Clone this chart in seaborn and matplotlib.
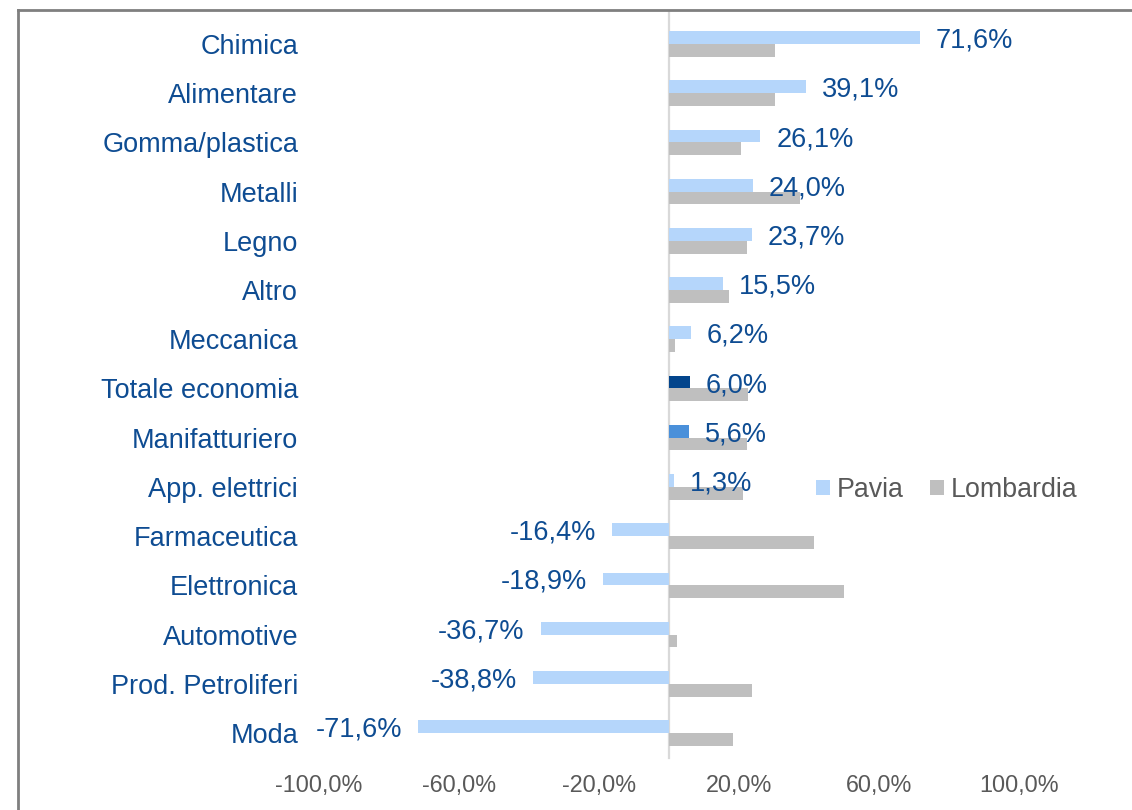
import matplotlib
matplotlib.use("Agg")
import matplotlib.pyplot as plt
from matplotlib.lines import Line2D
from matplotlib.ticker import FixedLocator, FuncFormatter
import pandas as pd
import seaborn as sns

# Variazione % per settore: Pavia vs Lombardia
settori = ["Chimica", "Alimentare", "Gomma/plastica", "Metalli", "Legno", "Altro",
           "Meccanica", "Totale economia", "Manifatturiero", "App. elettrici",
           "Farmaceutica", "Elettronica", "Automotive", "Prod. Petroliferi", "Moda"]
pavia = [71.6, 39.1, 26.1, 24.0, 23.7, 15.5, 6.2, 6.0, 5.6, 1.3,
         -16.4, -18.9, -36.7, -38.8, -71.6]
lombardia = [30.2, 30.2, 20.7, 37.4, 22.3, 17.1, 1.7, 22.6, 22.2, 21.2,
             41.4, 50.1, 2.2, 23.8, 18.2]
serie = ["Pavia", "Lombardia"]
x_ticks = [-100, -60, -20, 20, 60, 100]

df = pd.DataFrame({
    "settore": settori * 2,
    "valore": pavia + lombardia,
    "serie": [serie[0]] * len(settori) + [serie[1]] * len(settori),
})

BLUE_TXT = "#0E4C92"
GRAY_TXT = "#595959"
plt.rcParams["font.family"] = ["Liberation Sans", "DejaVu Sans"]

fig = plt.figure(figsize=(11.32, 8.10), dpi=100)
ax = fig.add_axes([0.2818, 0.0647, 0.6184, 0.9114])

sns.barplot(data=df, y="settore", x="valore", hue="serie", order=settori,
            hue_order=serie, orient="h", width=0.52, saturation=1,
            palette={"Pavia": "#B5D6FB", "Lombardia": "#BFBFBF"},
            linewidth=0, ax=ax)

# evidenzia i totali di Pavia
pav_bars = ax.containers[0]
pav_bars[settori.index("Totale economia")].set_facecolor("#03458C")
pav_bars[settori.index("Manifatturiero")].set_facecolor("#4A90DA")

labels = [f"{v:.1f}%".replace(".", ",") for v in pavia]
texts = ax.bar_label(pav_bars, labels=labels, padding=11.5, fontsize=19.5, color=BLUE_TXT)
for t in texts:
    dx, dy = t.xyann
    t.xyann = (dx, dy - 2.2)

ax.set_xlim(-100, 100)
ax.set_ylim(len(settori) - 0.5, -0.5)
ax.axvline(0, ymin=0, ymax=1.01, color="#D9D9D9", lw=1.6, clip_on=False, zorder=0)

ax.xaxis.set_major_locator(FixedLocator(x_ticks))
ax.xaxis.set_major_formatter(FuncFormatter(lambda v, p: f"{v:.1f}%".replace(".", ",")))
ax.tick_params(axis="x", length=0, pad=12, labelsize=16.8, labelcolor=GRAY_TXT)
ax.tick_params(axis="y", length=0, pad=15, labelsize=19.5, labelcolor=BLUE_TXT)
ax.set_xlabel("")
ax.set_ylabel("")
for s in ax.spines.values():
    s.set_visible(False)

handles, names = ax.get_legend_handles_labels()
ax.legend(handles, names, loc="center left",
          bbox_to_anchor=(816 / 1132, 1 - 490 / 810), bbox_transform=fig.transFigure,
          ncol=2, frameon=False, fontsize=19.3, labelcolor=GRAY_TXT,
          handlelength=0.52, handleheight=0.52, handletextpad=0.25,
          columnspacing=1.0, borderpad=0, borderaxespad=0)

# cornice del grafico
frame_kw = dict(color="#7F7F7F", lw=2.0, transform=fig.transFigure)
fig.add_artist(Line2D([18 / 1132, 18 / 1132], [0, 1 - 9.5 / 810], **frame_kw))
fig.add_artist(Line2D([18 / 1132, 1], [1 - 9.5 / 810, 1 - 9.5 / 810], **frame_kw))

fig.savefig("out.png", dpi=100, facecolor="white")
